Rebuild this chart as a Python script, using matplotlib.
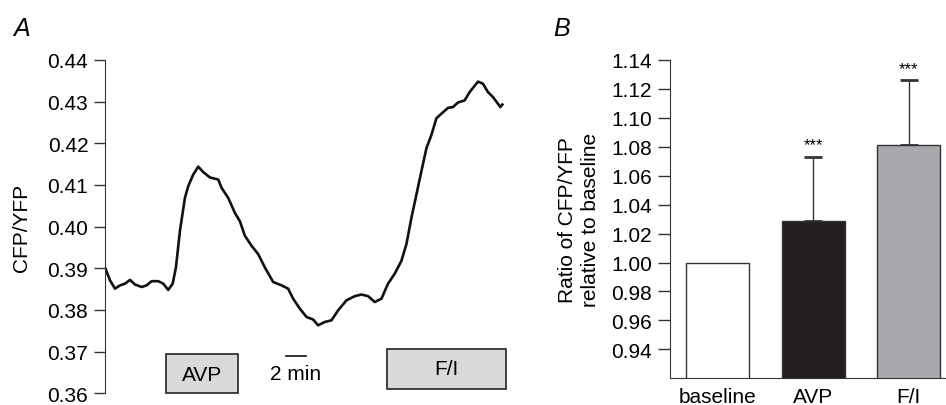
import numpy as np
import matplotlib
matplotlib.use("Agg")
import matplotlib.pyplot as plt
from matplotlib.patches import Rectangle

plt.rcParams['font.family'] = ['Liberation Sans', 'DejaVu Sans']

# panel A: CFP/YFP trace (time in min)
tiempo = [0.0, 0.5, 1.0, 1.5, 2.0, 2.5, 3.0, 3.67, 4.17, 4.67, 5.33, 5.83, 6.33, 6.77,
          7.1, 7.5, 8.0, 8.33, 8.83, 9.33, 9.83, 10.5, 11.33, 11.67, 12.33, 13.0, 13.5,
          14.0, 14.67, 15.33, 16.0, 16.83, 17.67, 18.33, 18.83, 19.5, 20.17, 20.83,
          21.33, 22.0, 22.67, 23.33, 24.17, 25.0, 25.67, 26.33, 27.0, 27.67, 28.33,
          29.0, 29.67, 30.17, 30.67, 31.17, 31.67, 32.17, 32.67, 33.17, 33.67, 34.33,
          34.83, 35.33, 36.0, 36.5, 37.33, 37.83, 38.33, 38.83, 39.33, 39.57, 39.77]
razon = [0.3902, 0.3871, 0.3851, 0.3859, 0.3863, 0.3872, 0.3861, 0.3855, 0.3859, 0.3869,
         0.3869, 0.3863, 0.3848, 0.3863, 0.3902, 0.3990, 0.4069, 0.4097, 0.4125, 0.4144,
         0.4131, 0.4118, 0.4113, 0.4093, 0.4069, 0.4033, 0.4013, 0.3978, 0.3954, 0.3934,
         0.3902, 0.3867, 0.3859, 0.3851, 0.3827, 0.3803, 0.3783, 0.3777, 0.3763, 0.3771,
         0.3775, 0.3799, 0.3823, 0.3833, 0.3837, 0.3833, 0.3819, 0.3827, 0.3863, 0.3887,
         0.3918, 0.3958, 0.4021, 0.4077, 0.4133, 0.4188, 0.4220, 0.4260, 0.4271, 0.4285,
         0.4287, 0.4298, 0.4303, 0.4323, 0.4348, 0.4343, 0.4323, 0.4311, 0.4295, 0.4287,
         0.4293]
ticks_a = [0.36, 0.37, 0.38, 0.39, 0.40, 0.41, 0.42, 0.43, 0.44]

# panel B: bars
categorias = ['baseline', 'AVP', 'F/I']
medias = [1.000, 1.029, 1.081]
errores = [0.0, 0.044, 0.045]
colores = ['white', '#231f20', '#a7a9ac']
ticks_b = [0.94, 0.96, 0.98, 1.00, 1.02, 1.04, 1.06, 1.08, 1.10, 1.12, 1.14]

fig = plt.figure(figsize=(9.46, 4.06), dpi=100)
gris = '#333333'
fs = 15

# ---------- A ----------
ax = fig.add_axes([0.111, 0.029, 0.433, 0.8208])
ax.plot(tiempo, razon, color='#111111', lw=1.9)
ax.set_xlim(0, 41)
ax.set_ylim(0.36, 0.44)
ax.set_yticks(ticks_a)
ax.set_yticklabels(['%.2f' % t for t in ticks_a])
for s in ['top', 'right', 'bottom']:
    ax.spines[s].set_visible(False)
ax.spines['left'].set_color(gris)
ax.set_xticks([])
ax.tick_params(axis='y', length=8, width=1, color=gris, labelsize=fs, pad=4)
ax.set_ylabel('CFP/YFP', fontsize=fs, labelpad=12)

# cajas de tratamiento
ax.add_patch(Rectangle((6.1, 0.3600), 7.2, 0.0093, facecolor='#d9d9d9',
                       edgecolor='#222222', lw=1.2, clip_on=False))
ax.text(9.7, 0.3646, 'AVP', ha='center', va='center', fontsize=fs)
ax.add_patch(Rectangle((28.2, 0.3610), 11.9, 0.0095, facecolor='#d9d9d9',
                       edgecolor='#222222', lw=1.2, clip_on=False))
ax.text(34.15, 0.3660, 'F/I', ha='center', va='center', fontsize=fs)
# barra de escala
ax.plot([18.1, 20.1], [0.3690, 0.3690], color='#111111', lw=1.2)
ax.text(19.1, 0.3648, '2 min', ha='center', va='center', fontsize=fs)

fig.text(0.014, 0.912, 'A', fontsize=18, style='italic')

# ---------- B ----------
bx = fig.add_axes([0.7082, 0.0658, 0.2918, 0.784])
x = np.arange(len(categorias))
bx.bar(x, medias, width=0.66, color=colores, edgecolor=gris, lw=1.0, zorder=2)
bx.errorbar(x[1:], medias[1:], yerr=[[0, 0], errores[1:]], fmt='none',
            ecolor=gris, elinewidth=1.0, capsize=6.5, capthick=2, zorder=1)
for xi, m, e in zip(x[1:], medias[1:], errores[1:]):
    bx.text(xi, m + e + 0.003, '***', ha='center', va='bottom', fontsize=12)
bx.set_xlim(-0.497, 2.39)
bx.set_ylim(0.92, 1.14)
bx.set_yticks(ticks_b)
bx.set_yticklabels(['%.2f' % t for t in ticks_b])
bx.set_xticks(x)
bx.set_xticklabels(categorias)
for s in ['top', 'right']:
    bx.spines[s].set_visible(False)
bx.spines['left'].set_color(gris)
bx.spines['bottom'].set_color(gris)
bx.tick_params(axis='y', length=9, width=1, color=gris, labelsize=fs, pad=4)
bx.tick_params(axis='x', length=0, labelsize=fs, pad=6)
bx.set_ylabel('Ratio of CFP/YFP\nrelative to baseline', fontsize=fs, labelpad=8,
              linespacing=1.25)

fig.text(0.585, 0.912, 'B', fontsize=18, style='italic')

fig.savefig('out.png', dpi=100)
